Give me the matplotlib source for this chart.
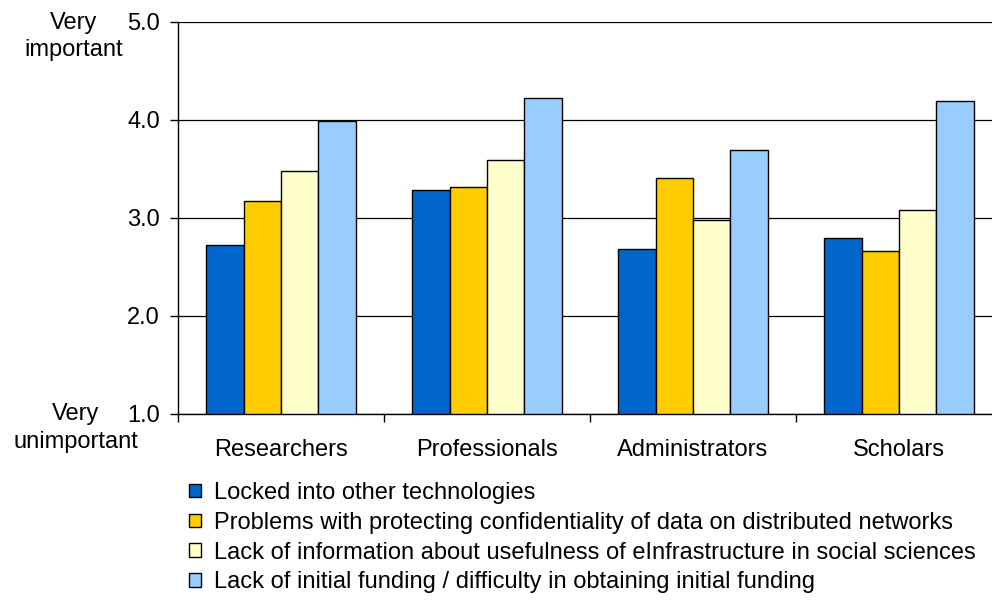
import matplotlib
matplotlib.use("Agg")
import matplotlib.pyplot as plt
import numpy as np

plt.rcParams['font.family'] = ['Liberation Sans', 'DejaVu Sans']

categories = ["Researchers", "Professionals", "Administrators", "Scholars"]
series_names = [
    "Locked into other technologies",
    "Problems with protecting confidentiality of data on distributed networks",
    "Lack of information about usefulness of eInfrastructure in social sciences",
    "Lack of initial funding / difficulty in obtaining initial funding",
]
locked = [2.72, 3.29, 2.68, 2.80]
confidentiality = [3.17, 3.32, 3.41, 2.66]
information = [3.48, 3.59, 2.98, 3.08]
funding = [3.99, 4.22, 3.69, 4.19]
series = [locked, confidentiality, information, funding]
colors = ["#0066CC", "#FFCC00", "#FFFFCC", "#99CCFF"]
y_ticks = [1.0, 2.0, 3.0, 4.0, 5.0]

FS = 17

fig = plt.figure(figsize=(9.92, 6.01), dpi=100)
ax = fig.add_axes([178/992, 1 - 414/601, (1002 - 178)/992, (414 - 22)/601])

x = np.arange(len(categories))
bw = 0.182
for i, (vals, c, name) in enumerate(zip(series, colors, series_names)):
    ax.bar(x + (i - 1.5) * bw, np.array(vals) - 1.0, bw, bottom=1.0, color=c,
           edgecolor="black", linewidth=1.0, label=name, zorder=3)

ax.set_xlim(-0.5, len(categories) - 0.5)
ax.set_ylim(1.0, 5.0)
ax.set_yticks(y_ticks)
ax.set_yticklabels([f"{v:.1f}" for v in y_ticks], fontsize=FS)
ax.yaxis.grid(True, color="black", linewidth=0.9, zorder=0)
ax.set_axisbelow(True)

ax.set_xticks(x)
ax.set_xticklabels(categories, fontsize=FS)
ax.tick_params(axis='x', length=0, pad=18)
ax.set_xticks(np.arange(len(categories) + 1) - 0.5, minor=True)
ax.tick_params(axis='x', which='minor', length=6, direction='out', width=1)
ax.tick_params(axis='y', length=6, direction='out', width=1, pad=7)

for s in ["top", "right"]:
    ax.spines[s].set_visible(False)
ax.spines["left"].set_linewidth(1)
ax.spines["bottom"].set_linewidth(1)

fig.text(74/992, 1 - 23/601, "Very", ha="center", va="center", fontsize=FS)
fig.text(74/992, 1 - 50/601, "important", ha="center", va="center", fontsize=FS)
fig.text(76/992, 1 - 414/601, "Very", ha="center", va="center", fontsize=FS)
fig.text(76/992, 1 - 442/601, "unimportant", ha="center", va="center", fontsize=FS)

handles, labels = ax.get_legend_handles_labels()
fig.legend(handles, labels, loc="upper left", bbox_to_anchor=(189/992, 1 - 482/601),
           frameon=False, fontsize=FS, handlelength=0.5, handleheight=0.5,
           handletextpad=0.55, labelspacing=0.33, borderaxespad=0, borderpad=0)

fig.savefig("out.png", dpi=100)
